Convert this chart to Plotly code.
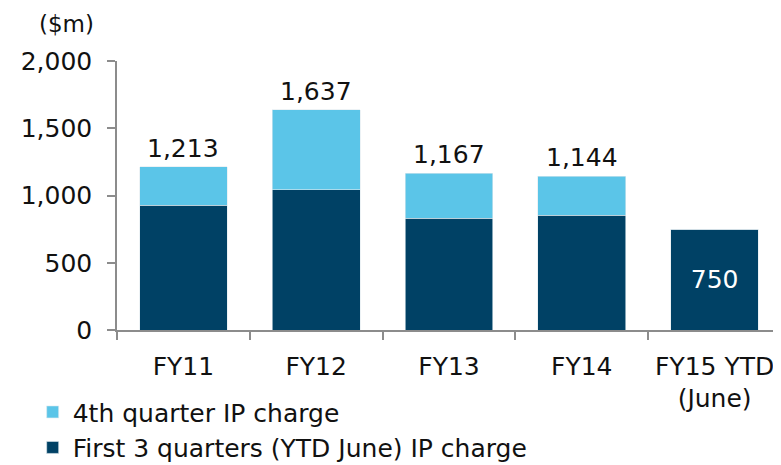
import plotly.graph_objects as go

categories = ["FY11", "FY12", "FY13", "FY14", "FY15 YTD<br>(June)"]
first_3q = [929, 1041, 830, 855, 750]
fourth_q = [284, 596, 337, 289, 0]
totals = [a + b for a, b in zip(first_3q, fourth_q)]

dark = "#004165"
light = "#5bc5e8"
font = "DejaVu Sans"
fs = 25

fig = go.Figure()
fig.add_trace(go.Bar(x=categories, y=first_3q, name="First 3 quarters (YTD June) IP charge",
                     marker=dict(color=dark, line=dict(color="#dfe9ef", width=0.6)),
                     text=["", "", "", "", "750"], textposition="inside", insidetextanchor="middle",
                     textfont=dict(color="white", size=fs, family=font), legendgroup="a"))
fig.add_trace(go.Bar(x=categories, y=fourth_q, name="4th quarter IP charge",
                     marker=dict(color=light, line=dict(color="#dfe9ef", width=0.6)),
                     legendgroup="b"))

for c, t in zip(categories[:4], totals[:4]):
    fig.add_annotation(x=c, y=t, text=f"{t:,}", showarrow=False, yanchor="bottom", yshift=2,
                       font=dict(size=fs, family=font, color="#111"))

fig.add_annotation(xref="paper", yref="paper", x=-0.032, y=1.138, text="($m)", showarrow=False,
                   xanchor="right", yanchor="middle", font=dict(size=23, family=font, color="#111"))

# page has an 8px body margin, so margins are offset to land the plot where the reference has it
fig.update_layout(
    barmode="stack", bargap=0.34,
    width=781, height=465,
    margin=dict(l=109, r=8, t=53, b=143, autoexpand=False),
    plot_bgcolor="white", paper_bgcolor="white",
    font=dict(family=font, size=fs, color="#111"),
    showlegend=True,
    legend=dict(traceorder="reversed", x=-0.127, y=-0.22, xanchor="left", yanchor="top",
                font=dict(size=fs, family=font), tracegroupgap=6, itemwidth=30),
)
fig.update_xaxes(showline=True, linecolor="#8c8c8c", linewidth=1.5, ticks="outside",
                 tickson="boundaries", ticklen=8, tickcolor="#8c8c8c", tickwidth=1.5,
                 ticklabelstandoff=13, automargin=False,
                 tickfont=dict(size=fs, family=font))
fig.update_yaxes(range=[0, 2000], tickvals=[0, 500, 1000, 1500, 2000], tickformat=",",
                 showline=True, linecolor="#8c8c8c", linewidth=1.5, ticks="outside",
                 ticklen=8, tickcolor="#8c8c8c", tickwidth=1.5, showgrid=False, zeroline=False,
                 ticklabelstandoff=10, automargin=False,
                 tickfont=dict(size=fs, family=font))

fig.write_html("out.html")
